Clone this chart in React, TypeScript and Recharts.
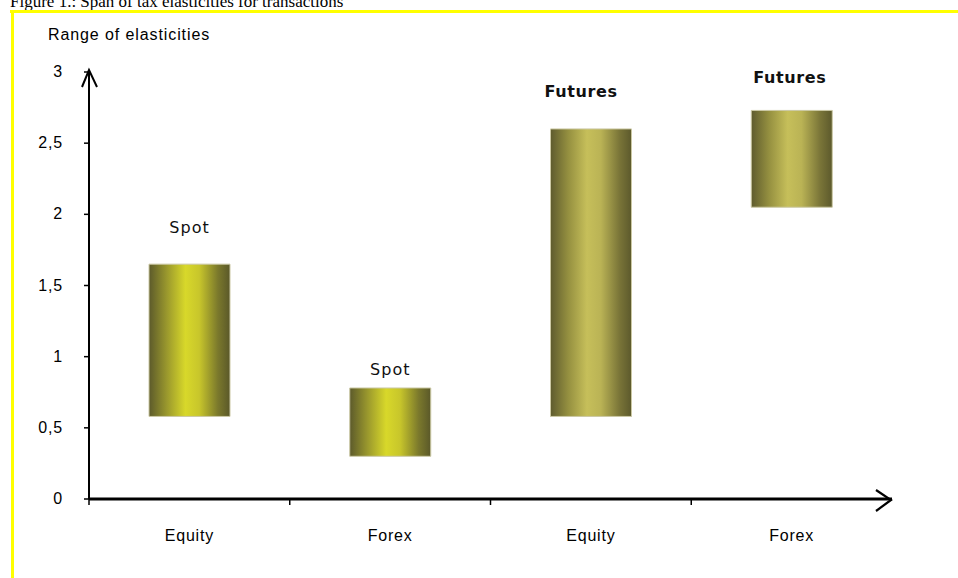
import React from "react";
import { BarChart, Bar, XAxis, YAxis, Cell, LabelList } from "recharts";

const categories = ["Equity", "Forex", "Equity", "Forex"];
const segments = ["Spot", "Spot", "Futures", "Futures"];
const lowValues = [0.58, 0.3, 0.58, 2.05];
const highValues = [1.65, 0.78, 2.6, 2.73];
const yTicks = [0, 0.5, 1, 1.5, 2, 2.5, 3];

const W = 958;
const H = 578;
const M = { top: 72, right: 66, bottom: 39, left: 0 };
const Y_AXIS_W = 89;
const X_AXIS_H = 40;
const plotLeft = M.left + Y_AXIS_W;
const plotRight = W - M.right;
const plotTop = M.top;
const plotBottom = H - M.bottom - X_AXIS_H;
const band = (plotRight - plotLeft) / categories.length;

// label nudges (style only): extra gap above bar top, horizontal shift
const labelGap = [31, 13, 32, 27];
const labelShift = [0, 0, -10, -2];

const data = categories.map((c, i) => ({
  idx: i,
  cat: c,
  seg: segments[i],
  range: [lowValues[i], highValues[i]],
}));

const fmt = (v: number) => String(v).replace(".", ",");

const XTick = (props: any) => {
  const { x, y, payload } = props;
  const i = payload.value as number;
  return (
    <g>
      <line x1={x - band / 2} x2={x - band / 2} y1={y} y2={y + 6} stroke="#000" strokeWidth={1.5} />
      <text
        x={x}
        y={y + 42}
        textAnchor="middle"
        fontFamily="'Liberation Sans', Arial, sans-serif"
        fontSize={16}
        letterSpacing={0.8}
        fill="#000"
      >
        {categories[i]}
      </text>
    </g>
  );
};

const YTick = (props: any) => {
  const { x, y, payload } = props;
  return (
    <text
      x={x}
      y={y + 5}
      textAnchor="end"
      fontFamily="'Liberation Sans', Arial, sans-serif"
      fontSize={16}
      letterSpacing={0.8}
      fill="#000"
    >
      {fmt(payload.value)}
    </text>
  );
};

const SegLabel = (props: any) => {
  const { x, y, width, index } = props;
  return (
    <text
      x={x + width / 2 + labelShift[index]}
      y={y - labelGap[index]}
      textAnchor="middle"
      fontFamily="'DejaVu Sans', Verdana, sans-serif"
      fontSize={16}
      fontWeight={segments[index] === "Futures" ? "bold" : "normal"}
      letterSpacing={segments[index] === "Futures" ? 0.6 : 1}
      fill="#111"
    >
      {segments[index]}
    </text>
  );
};

export default function App() {
  return (
    <div style={{ position: "absolute", left: 0, top: 0, width: W, height: H, background: "#fff", overflow: "hidden" }}>
      <svg width={0} height={0} style={{ position: "absolute" }}>
        <defs>
          <linearGradient id="spotGrad" x1="0" y1="0" x2="1" y2="0">
            <stop offset="0%" stopColor="#5c5a2b" />
            <stop offset="22%" stopColor="#9a982d" />
            <stop offset="45%" stopColor="#d8d82a" />
            <stop offset="62%" stopColor="#c8c62b" />
            <stop offset="85%" stopColor="#7b792c" />
            <stop offset="100%" stopColor="#5a5829" />
          </linearGradient>
          <linearGradient id="futGrad" x1="0" y1="0" x2="1" y2="0">
            <stop offset="0%" stopColor="#5e5b2e" />
            <stop offset="22%" stopColor="#959040" />
            <stop offset="45%" stopColor="#c6bf5a" />
            <stop offset="62%" stopColor="#bab355" />
            <stop offset="85%" stopColor="#7a7538" />
            <stop offset="100%" stopColor="#5c592c" />
          </linearGradient>
        </defs>
      </svg>
      <BarChart width={W} height={H} data={data} margin={M} barSize={81}>
        <XAxis
          dataKey="idx"
          type="category"
          height={X_AXIS_H}
          axisLine={{ stroke: "#000", strokeWidth: 3 }}
          tickLine={false}
          tickSize={0}
          tickMargin={0}
          tick={<XTick />}
          interval={0}
        />
        <YAxis
          width={Y_AXIS_W}
          domain={[0, 3]}
          ticks={yTicks}
          axisLine={{ stroke: "#000", strokeWidth: 2 }}
          tickLine={{ stroke: "#000", strokeWidth: 1.5 }}
          tickSize={5}
          tickMargin={21}
          tick={<YTick />}
          interval={0}
          allowDataOverflow
        />
        <Bar dataKey="range" isAnimationActive={false} stroke="#cbc8a4" strokeWidth={1}>
          {data.map((d, i) => (
            <Cell key={i} fill={d.seg === "Spot" ? "url(#spotGrad)" : "url(#futGrad)"} />
          ))}
          <LabelList dataKey="seg" content={<SegLabel />} />
        </Bar>
      </BarChart>
      <svg width={W} height={H} style={{ position: "absolute", left: 0, top: 0, pointerEvents: "none" }}>
        <text x={10} y={7} fontFamily="'Liberation Serif', 'Times New Roman', serif" fontSize={17} fill="#000">
          Figure 1.: Span of tax elasticities for transactions
        </text>
        <line x1={10} x2={W} y1={11.5} y2={11.5} stroke="#ffff00" strokeWidth={3} />
        <line x1={12.5} x2={12.5} y1={10} y2={H} stroke="#ffff00" strokeWidth={3} />
        <text
          x={48}
          y={40}
          fontFamily="'Liberation Sans', Arial, sans-serif"
          fontSize={16}
          letterSpacing={0.9}
          fill="#000"
        >
          Range of elasticities
        </text>
        <polyline
          points={`${plotLeft - 7},${plotTop + 15} ${plotLeft},${plotTop - 2} ${plotLeft + 8},${plotTop + 15}`}
          fill="none"
          stroke="#000"
          strokeWidth={2}
        />
        <polyline
          points={`${plotRight - 16},${plotBottom - 9} ${plotRight - 1},${plotBottom + 1} ${plotRight - 16},${plotBottom + 12}`}
          fill="none"
          stroke="#000"
          strokeWidth={2.2}
        />
      </svg>
    </div>
  );
}
